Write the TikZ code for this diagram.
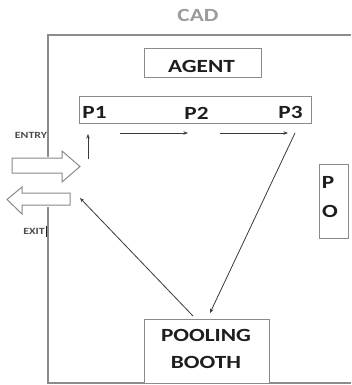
\documentclass[tikz,border=0pt]{standalone}
\usepackage{fontspec}
\setmainfont{Carlito}[FakeStretch=1.25]
\usetikzlibrary{arrows.meta}
\definecolor{wallgray}{HTML}{8C8C8C}
\definecolor{boxgray}{HTML}{8A8A8A}
\definecolor{textdark}{HTML}{1E1E1E}
\definecolor{cadgray}{HTML}{9C9C9C}
\definecolor{arrowdark}{HTML}{3A3A3A}
\begin{document}
\begin{tikzpicture}[x=1pt,y=-1pt,
  wall/.style={draw=wallgray,line width=1.3pt},
  box/.style={draw=boxgray,line width=1pt,inner sep=0pt,fill=white},
  lbl/.style={font=\bfseries\fontsize{18.6}{27}\selectfont,text=textdark,inner sep=0pt,align=center},
  small/.style={font=\bfseries\fontsize{9.5}{10}\selectfont,text=textdark!80,inner sep=0pt},
  flow/.style={draw=arrowdark,line width=0.8pt,-{Stealth[length=4.5pt,width=3.5pt]}},
  doorarrow/.style={draw=boxgray,line width=1pt,fill=white,line join=miter}]
\useasboundingbox (0,0) rectangle (351,385);
\fill[white] (0,0) rectangle (351,385);
% title
\node[lbl,text=cadgray] (cad) at (198,15.5) {CAD};
% walls
\draw[wall] (48,157) -- (48,35) -- (351,35);
\draw[wall] (48,207) -- (48,383) -- (351,383);
% boxes
\node[box,minimum width=117pt,minimum height=29pt] (agentbox) at (202.5,63.5) {};
\node[lbl] (agent) at (201.5,66) {AGENT};
\node[box,minimum width=232pt,minimum height=26pt] (pbox) at (195,110) {};
\node[lbl] (p1) at (94.5,112.5) {P1};
\node[lbl] (p2) at (196.5,113) {P2};
\node[lbl] (p3) at (290.5,112.5) {P3};
\node[box,minimum width=29pt,minimum height=74pt] (pobox) at (333.5,201) {};
\node[lbl] (ptxt) at (328,182.5) {P};
\node[lbl] (otxt) at (330,211) {O};
\node[box,minimum width=125pt,minimum height=64pt] (booth) at (206.5,351) {};
\node[lbl] (boothtxt) at (206,348.5) {POOLING\\BOOTH};
% entry / exit arrows
\draw[doorarrow] (12,158) -- (62,158) -- (62,151) -- (80,166.5) -- (62,182) -- (62,173) -- (12,173) -- cycle;
\draw[doorarrow] (70,193) -- (22,193) -- (22,187) -- (7,199.5) -- (22,214) -- (22,205) -- (70,205) -- cycle;
\node[small] (entry) at (31,135.5) {ENTRY};
\node[small] (exit) at (34,231) {EXIT};
\draw[textdark,line width=1.6pt] (46.5,226) -- (46.5,237);
% flow
\coordinate (upS) at (88,159); \coordinate (upE) at (88,134);
\coordinate (a1) at (120,133); \coordinate (a2) at (188,133);
\coordinate (b1) at (220,133); \coordinate (b2) at (288,133);
\coordinate (c1) at (295,133); \coordinate (c2) at (210,313);
\coordinate (d1) at (193,316); \coordinate (d2) at (80,198);
\draw[flow] (upS) -- (upE);
\draw[flow] (a1) -- (a2);
\draw[flow] (b1) -- (b2);
\draw[flow] (c1) -- (c2);
\draw[flow] (d1) -- (d2);
\end{tikzpicture}
\end{document}
